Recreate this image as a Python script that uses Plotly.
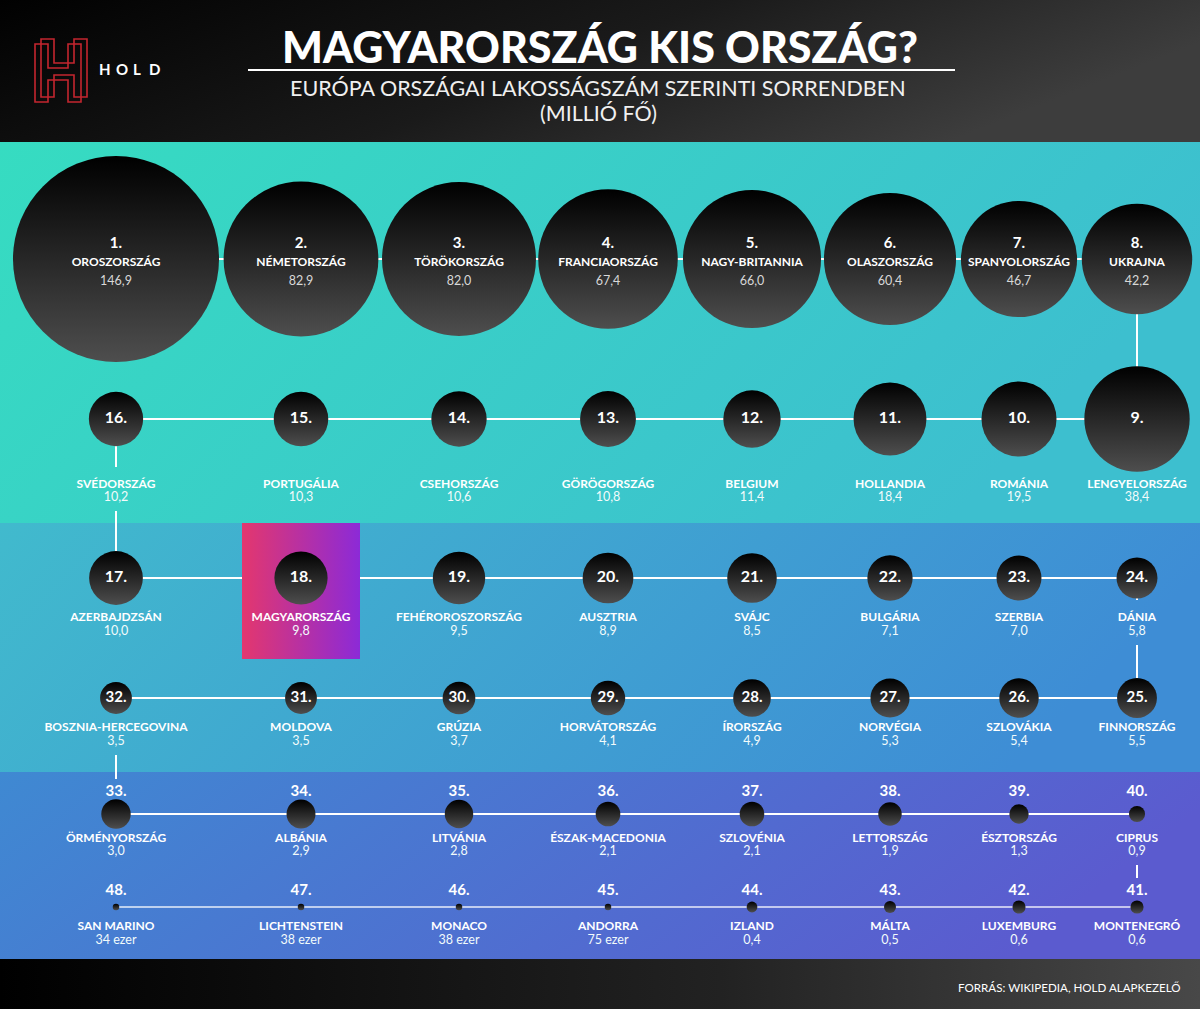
import base64
import numpy as np
import plotly.graph_objects as go

# ---------------- data ----------------
ranks = list(range(1, 49))
countries = ["OROSZORSZÁG", "NÉMETORSZÁG", "TÖRÖKORSZÁG", "FRANCIAORSZÁG", "NAGY-BRITANNIA",
             "OLASZORSZÁG", "SPANYOLORSZÁG", "UKRAJNA", "LENGYELORSZÁG", "ROMÁNIA",
             "HOLLANDIA", "BELGIUM", "GÖRÖGORSZÁG", "CSEHORSZÁG", "PORTUGÁLIA",
             "SVÉDORSZÁG", "AZERBAJDZSÁN", "MAGYARORSZÁG", "FEHÉROROSZORSZÁG", "AUSZTRIA",
             "SVÁJC", "BULGÁRIA", "SZERBIA", "DÁNIA", "FINNORSZÁG", "SZLOVÁKIA",
             "NORVÉGIA", "ÍRORSZÁG", "HORVÁTORSZÁG", "GRÚZIA", "MOLDOVA",
             "BOSZNIA-HERCEGOVINA", "ÖRMÉNYORSZÁG", "ALBÁNIA", "LITVÁNIA",
             "ÉSZAK-MACEDONIA", "SZLOVÉNIA", "LETTORSZÁG", "ÉSZTORSZÁG", "CIPRUS",
             "MONTENEGRÓ", "LUXEMBURG", "MÁLTA", "IZLAND", "ANDORRA", "MONACO",
             "LICHTENSTEIN", "SAN MARINO"]
population = [146.9, 82.9, 82.0, 67.4, 66.0, 60.4, 46.7, 42.2, 38.4, 19.5, 18.4, 11.4,
              10.8, 10.6, 10.3, 10.2, 10.0, 9.8, 9.5, 8.9, 8.5, 7.1, 7.0, 5.8, 5.5, 5.4,
              5.3, 4.9, 4.1, 3.7, 3.5, 3.5, 3.0, 2.9, 2.8, 2.1, 2.1, 1.9, 1.3, 0.9, 0.6,
              0.6, 0.5, 0.4, 0.075, 0.038, 0.038, 0.034]
value_labels = ["146,9", "82,9", "82,0", "67,4", "66,0", "60,4", "46,7", "42,2", "38,4",
                "19,5", "18,4", "11,4", "10,8", "10,6", "10,3", "10,2", "10,0", "9,8", "9,5",
                "8,9", "8,5", "7,1", "7,0", "5,8", "5,5", "5,4", "5,3", "4,9", "4,1", "3,7",
                "3,5", "3,5", "3,0", "2,9", "2,8", "2,1", "2,1", "1,9", "1,3", "0,9", "0,6",
                "0,6", "0,5", "0,4", "75 ezer", "38 ezer", "38 ezer", "34 ezer"]
highlight = "MAGYARORSZÁG"

# ---------------- layout grid ----------------
W, H = 1200, 1009
COL_X = [116, 301, 459, 608, 752, 890, 1019, 1137]
ROW_Y = [259, 419, 578, 698, 814, 907]
# (rank_y, name_y, value_y) per row
ROW_LABEL = [(244, 263, 282), (419, 485, 498), (578, 618, 632),
             (698, 728, 742), (792, 839, 852), (891, 927, 941)]
RANK_ABOVE = (4, 5)  # rows whose rank label sits above the dot
PX_PER_SQRT = 17.0   # diameter per sqrt(million)
MIN_D = 6.5

def pos(rank):
    r = (rank - 1) // 8
    k = (rank - 1) % 8
    c = k if r % 2 == 0 else 7 - k
    return r, c

xs, ys, sizes, rows, cols = [], [], [], [], []
for rk, v in zip(ranks, population):
    r, c = pos(rk)
    rows.append(r); cols.append(c)
    xs.append(COL_X[c]); ys.append(ROW_Y[r])
    sizes.append(max(PX_PER_SQRT * np.sqrt(v), MIN_D))

fig = go.Figure()

# ---------------- background (decorative gradients) ----------------
svg = f'''<svg xmlns="http://www.w3.org/2000/svg" width="{W}" height="{H}" viewBox="0 0 {W} {H}">
<defs>
<linearGradient id="hd" x1="0" y1="0" x2="1" y2="0.3"><stop offset="0" stop-color="#010101"/><stop offset="0.55" stop-color="#1a1a1a"/><stop offset="1" stop-color="#3d3d3d"/></linearGradient>
<linearGradient id="b1" x1="0" y1="0" x2="1" y2="0.3"><stop offset="0" stop-color="#36dcc1"/><stop offset="1" stop-color="#3dbfcf"/></linearGradient>
<linearGradient id="b2" x1="0" y1="0" x2="1" y2="0.2"><stop offset="0" stop-color="#41bacd"/><stop offset="1" stop-color="#3e8dd5"/></linearGradient>
<linearGradient id="b3" x1="0" y1="0" x2="1" y2="0.2"><stop offset="0" stop-color="#3f89d2"/><stop offset="1" stop-color="#5b5bcf"/></linearGradient>
<linearGradient id="ft" x1="0" y1="0" x2="1" y2="0"><stop offset="0" stop-color="#000000"/><stop offset="0.6" stop-color="#222222"/><stop offset="1" stop-color="#484848"/></linearGradient>
</defs>
<rect x="0" y="0" width="{W}" height="142" fill="url(#hd)"/>
<rect x="0" y="142" width="{W}" height="381" fill="url(#b1)"/>
<rect x="0" y="523" width="{W}" height="249" fill="url(#b2)"/>
<rect x="0" y="772" width="{W}" height="187" fill="url(#b3)"/>
<rect x="0" y="959" width="{W}" height="50" fill="url(#ft)"/>
</svg>'''
svg_uri = "data:image/svg+xml;base64," + base64.b64encode(svg.encode("utf-8")).decode("ascii")

# ---------------- connecting lines ----------------
lx, ly = [], []
for r in range(5):
    lx += [COL_X[0], COL_X[7], None]; ly += [ROW_Y[r], ROW_Y[r], None]
for r in range(5):
    c = 7 if r % 2 == 0 else 0
    x = COL_X[c]
    if r == 0:
        lx += [x, x, None]; ly += [ROW_Y[0], ROW_Y[1], None]
        continue
    ry, ny, vy = ROW_LABEL[r]
    lx += [x, x, None]; ly += [ROW_Y[r], ny - 18, None]
    end = ROW_LABEL[r + 1][0] - 13 if (r + 1) in RANK_ABOVE else ROW_Y[r + 1]
    lx += [x, x, None]; ly += [vy + 13, end, None]
fig.add_trace(go.Scatter(x=lx, y=ly, mode="lines", line=dict(color="white", width=2),
                         hoverinfo="skip"))
fig.add_trace(go.Scatter(x=[COL_X[0], COL_X[7]], y=[ROW_Y[5], ROW_Y[5]], mode="lines",
                         line=dict(color="rgba(255,255,255,0.65)", width=2), hoverinfo="skip"))

# ---------------- highlight box for Hungary ----------------
hi = countries.index(highlight)
hx, hy = xs[hi], ys[hi]
bx0, bx1, by0, by1 = hx - 59, hx + 59, 523, 659
fig.add_trace(go.Scatter(x=[bx0, bx1, bx1, bx0, bx0], y=[by0, by0, by1, by1, by0],
                         mode="lines", fill="toself", line=dict(width=0),
                         fillgradient=dict(type="horizontal",
                                           colorscale=[[0, "#e3376e"], [1, "#8c2ad7"]]),
                         hoverinfo="skip"))

# ---------------- circles ----------------
fig.add_trace(go.Scatter(x=xs, y=ys, mode="markers",
                         marker=dict(size=sizes, color="#000000", opacity=1, line=dict(width=0),
                                     gradient=dict(type="vertical", color="#4e4e4e")),
                         hoverinfo="skip"))

# ---------------- labels ----------------
rx, ry_, rt, rs = [], [], [], []
nx, ny_, nt = [], [], []
vx, vy_, vt, vc = [], [], [], []
for i, rk in enumerate(ranks):
    r = rows[i]
    a, b, c = ROW_LABEL[r]
    rx.append(xs[i]); ry_.append(a); rt.append(f"{rk}."); rs.append(15 if r in (0, 3, 4, 5) else 16)
    nx.append(xs[i]); ny_.append(b); nt.append(countries[i])
    vx.append(xs[i]); vy_.append(c); vt.append(value_labels[i])
    vc.append("#d8d8d8" if r == 0 else "#f2fbfb")

fig.add_trace(go.Scatter(x=rx, y=ry_, text=rt, mode="text", textposition="middle center",
                         textfont=dict(family="Lato", size=rs, color="white", weight="bold"),
                         hoverinfo="skip"))
fig.add_trace(go.Scatter(x=nx, y=ny_, text=nt, mode="text", textposition="middle center",
                         textfont=dict(family="Lato", size=12, color="white", weight="bold"),
                         hoverinfo="skip"))
fig.add_trace(go.Scatter(x=vx, y=vy_, text=vt, mode="text", textposition="middle center",
                         textfont=dict(family="Lato", size=12.5, color=vc),
                         hoverinfo="skip"))

# ---------------- header / footer texts ----------------
ann = [
    dict(x=600, y=46, text="MAGYARORSZÁG KIS ORSZÁG?", showarrow=False,
         font=dict(family="Lato", size=43, color="white", weight=900), xanchor="center", yanchor="middle"),
    dict(x=598, y=88, text="EURÓPA ORSZÁGAI LAKOSSÁGSZÁM SZERINTI SORRENDBEN", showarrow=False,
         font=dict(family="Lato", size=21.5, color="#f0f0f0"), xanchor="center", yanchor="middle"),
    dict(x=598, y=113, text="(MILLIÓ FŐ)", showarrow=False,
         font=dict(family="Lato", size=21.5, color="#f0f0f0"), xanchor="center", yanchor="middle"),
    dict(x=1182, y=987, text="FORRÁS: WIKIPEDIA, HOLD ALAPKEZELŐ", showarrow=False,
         font=dict(family="Lato", size=11.6, color="white"), xanchor="right", yanchor="middle"),
]
for ch, x in zip("HOLD", [97, 113.5, 131, 147]):
    ann.append(dict(x=x, y=69, text=ch, showarrow=False,
                    font=dict(family="Lato", size=15, color="white", weight="bold"),
                    xanchor="left", yanchor="middle"))
for a in ann:
    a.update(xref="x", yref="y")

def h_path(x0, y0):
    pts = [(0, 0), (13, 0), (13, 24), (33, 24), (33, 0), (46, 0), (46, 58), (33, 58),
           (33, 36), (13, 36), (13, 58), (0, 58)]
    return "M " + " L ".join(f"{x0 + px},{y0 + py}" for px, py in pts) + " Z"

shapes = [
    dict(type="line", x0=248, x1=955, y0=70, y1=70, line=dict(color="white", width=2)),
    dict(type="path", path=h_path(35, 44), line=dict(color="#c4262f", width=1.6)),
    dict(type="path", path=h_path(41, 39), line=dict(color="#c4262f", width=1.6)),
]
for s in shapes:
    s.update(xref="x", yref="y", layer="above")

fig.update_layout(
    width=W, height=H, margin=dict(l=0, r=0, t=0, b=0),
    paper_bgcolor="#111111", plot_bgcolor="rgba(0,0,0,0)",
    showlegend=False, hovermode=False,
    xaxis=dict(range=[0, W], visible=False, fixedrange=True),
    yaxis=dict(range=[H, 0], visible=False, fixedrange=True),
    images=[dict(source=svg_uri, xref="paper", yref="paper", x=0, y=1, sizex=1, sizey=1,
                 xanchor="left", yanchor="top", sizing="stretch", layer="below")],
    annotations=ann, shapes=shapes,
)

fig.write_html("out.html", config={"displayModeBar": False, "staticPlot": True},
               post_script="document.body.style.margin='0';document.body.style.overflow='hidden';")
